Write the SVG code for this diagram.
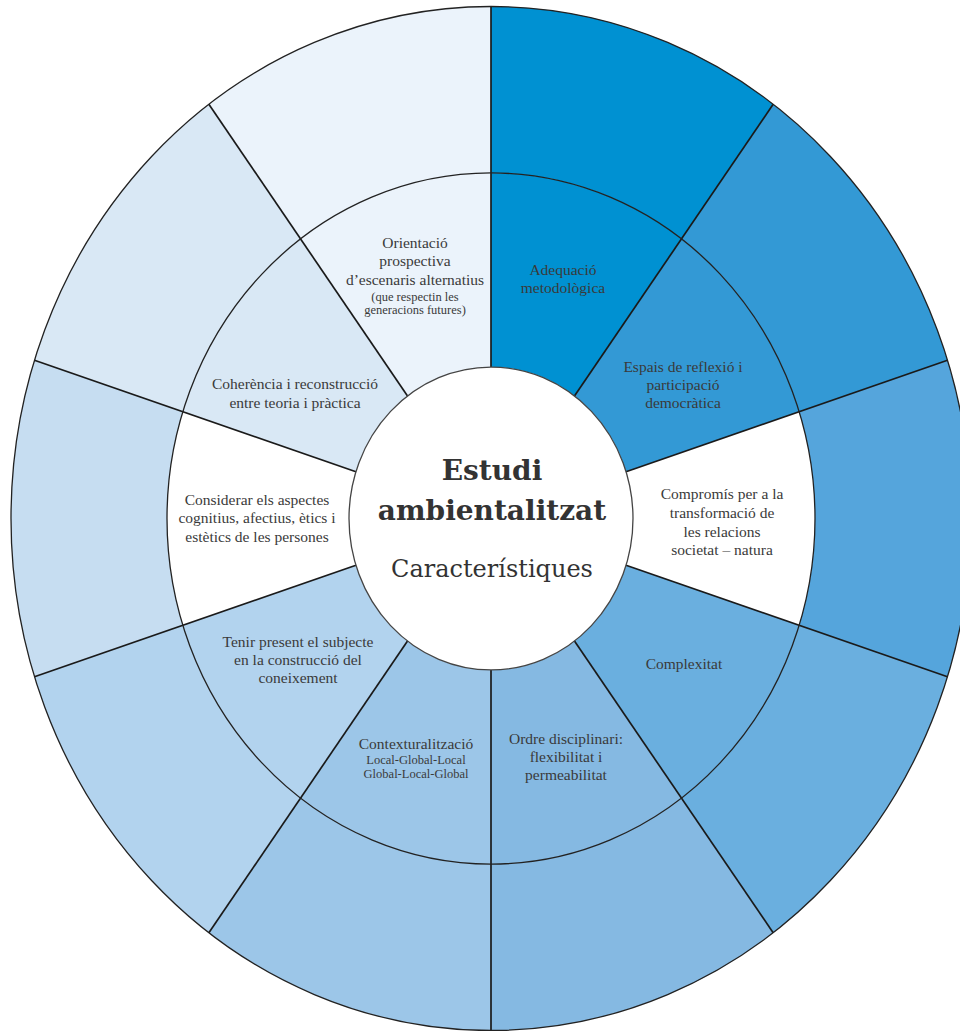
<svg xmlns="http://www.w3.org/2000/svg" width="960" height="1031" viewBox="0 0 960 1031">
<style>
.cell{stroke:none}
.t{font-family:"Liberation Serif","DejaVu Serif",serif;font-size:15.5px;fill:#3a3a3a;text-anchor:middle}
.s{font-size:12.5px}
.h{font-family:"DejaVu Serif",serif;font-weight:bold;font-size:28px;fill:#333;text-anchor:middle}
.c{font-family:"DejaVu Serif",serif;font-size:24px;fill:#333;text-anchor:middle}
.ln{stroke:#1a1a1a;stroke-width:1.7;fill:none}
.ring{stroke:#222;stroke-width:1.3;fill:none}
</style>
<rect width="960" height="1031" fill="#fff"/>
<g id="s0">
<path class="cell" fill="#0091d2" d="M491,6.5 A480 512 0 0 1 773.14,104.28 L681.44,238.9 A324 345.6 0 0 0 491,172.9 Z"/>
<path class="cell" fill="#0091d2" d="M491,172.9 A324 345.6 0 0 1 681.44,238.9 L574.47,395.96 A142 151.47 0 0 0 491,367.03 Z"/>
<text class="t" x="563" y="275">Adequació</text>
<text class="t" x="563" y="293">metodològica</text>
</g>
<g id="s1">
<path class="cell" fill="#3399d5" d="M773.14,104.28 A480 512 0 0 1 947.51,360.28 L799.14,411.7 A324 345.6 0 0 0 681.44,238.9 Z"/>
<path class="cell" fill="#3399d5" d="M681.44,238.9 A324 345.6 0 0 1 799.14,411.7 L626.05,471.69 A142 151.47 0 0 0 574.47,395.96 Z"/>
<text class="t" x="683" y="372">Espais de reflexió i</text>
<text class="t" x="683" y="390">participació</text>
<text class="t" x="683" y="408">democràtica</text>
</g>
<g id="s2">
<path class="cell" fill="#55a5dc" d="M947.51,360.28 A480 512 0 0 1 947.51,676.72 L799.14,625.3 A324 345.6 0 0 0 799.14,411.7 Z"/>
<path class="cell" fill="#ffffff" d="M799.14,411.7 A324 345.6 0 0 1 799.14,625.3 L626.05,565.31 A142 151.47 0 0 0 626.05,471.69 Z"/>
<text class="t" x="722" y="499">Compromís per a la</text>
<text class="t" x="722" y="518">transformació de</text>
<text class="t" x="722" y="537">les relacions</text>
<text class="t" x="722" y="555">societat – natura</text>
</g>
<g id="s3">
<path class="cell" fill="#6aafdf" d="M947.51,676.72 A480 512 0 0 1 773.14,932.72 L681.44,798.1 A324 345.6 0 0 0 799.14,625.3 Z"/>
<path class="cell" fill="#6aafdf" d="M799.14,625.3 A324 345.6 0 0 1 681.44,798.1 L574.47,641.04 A142 151.47 0 0 0 626.05,565.31 Z"/>
<text class="t" x="684" y="669">Complexitat</text>
</g>
<g id="s4">
<path class="cell" fill="#85b9e2" d="M773.14,932.72 A480 512 0 0 1 491,1030.5 L491,864.1 A324 345.6 0 0 0 681.44,798.1 Z"/>
<path class="cell" fill="#85b9e2" d="M681.44,798.1 A324 345.6 0 0 1 491,864.1 L491,669.97 A142 151.47 0 0 0 574.47,641.04 Z"/>
<text class="t" x="566" y="744">Ordre disciplinari:</text>
<text class="t" x="566" y="762">flexibilitat i</text>
<text class="t" x="566" y="780">permeabilitat</text>
</g>
<g id="s5">
<path class="cell" fill="#9cc6e8" d="M491,1030.5 A480 512 0 0 1 208.86,932.72 L300.56,798.1 A324 345.6 0 0 0 491,864.1 Z"/>
<path class="cell" fill="#9cc6e8" d="M491,864.1 A324 345.6 0 0 1 300.56,798.1 L407.53,641.04 A142 151.47 0 0 0 491,669.97 Z"/>
<text class="t" x="416" y="749">Contexturalització</text>
<text class="t s" x="416" y="764">Local-Global-Local</text>
<text class="t s" x="416" y="778">Global-Local-Global</text>
</g>
<g id="s6">
<path class="cell" fill="#b2d3ee" d="M208.86,932.72 A480 512 0 0 1 34.49,676.72 L182.86,625.3 A324 345.6 0 0 0 300.56,798.1 Z"/>
<path class="cell" fill="#b2d3ee" d="M300.56,798.1 A324 345.6 0 0 1 182.86,625.3 L355.95,565.31 A142 151.47 0 0 0 407.53,641.04 Z"/>
<text class="t" x="298" y="647">Tenir present el subjecte</text>
<text class="t" x="298" y="665">en la construcció del</text>
<text class="t" x="298" y="683">coneixement</text>
</g>
<g id="s7">
<path class="cell" fill="#c6ddf1" d="M34.49,676.72 A480 512 0 0 1 34.49,360.28 L182.86,411.7 A324 345.6 0 0 0 182.86,625.3 Z"/>
<path class="cell" fill="#ffffff" d="M182.86,625.3 A324 345.6 0 0 1 182.86,411.7 L355.95,471.69 A142 151.47 0 0 0 355.95,565.31 Z"/>
<text class="t" x="257" y="505">Considerar els aspectes</text>
<text class="t" x="257" y="523">cognitius, afectius, ètics i</text>
<text class="t" x="257" y="542">estètics de les persones</text>
</g>
<g id="s8">
<path class="cell" fill="#d9e8f5" d="M34.49,360.28 A480 512 0 0 1 208.86,104.28 L300.56,238.9 A324 345.6 0 0 0 182.86,411.7 Z"/>
<path class="cell" fill="#d9e8f5" d="M182.86,411.7 A324 345.6 0 0 1 300.56,238.9 L407.53,395.96 A142 151.47 0 0 0 355.95,471.69 Z"/>
<text class="t" x="295" y="389">Coherència i reconstrucció</text>
<text class="t" x="295" y="408">entre teoria i pràctica</text>
</g>
<g id="s9">
<path class="cell" fill="#ebf3fb" d="M208.86,104.28 A480 512 0 0 1 491,6.5 L491,172.9 A324 345.6 0 0 0 300.56,238.9 Z"/>
<path class="cell" fill="#ebf3fb" d="M300.56,238.9 A324 345.6 0 0 1 491,172.9 L491,367.03 A142 151.47 0 0 0 407.53,395.96 Z"/>
<text class="t" x="415" y="248">Orientació</text>
<text class="t" x="415" y="266">prospectiva</text>
<text class="t" x="415" y="285">d’escenaris alternatius</text>
<text class="t s" x="415" y="301">(que respectin les</text>
<text class="t s" x="415" y="314">generacions futures)</text>
</g>
<g id="connectors">
<line class="ln" x1="491" y1="6.5" x2="491" y2="367.03"/>
<line class="ln" x1="773.14" y1="104.28" x2="574.47" y2="395.96"/>
<line class="ln" x1="947.51" y1="360.28" x2="626.05" y2="471.69"/>
<line class="ln" x1="947.51" y1="676.72" x2="626.05" y2="565.31"/>
<line class="ln" x1="773.14" y1="932.72" x2="574.47" y2="641.04"/>
<line class="ln" x1="491" y1="1030.5" x2="491" y2="669.97"/>
<line class="ln" x1="208.86" y1="932.72" x2="407.53" y2="641.04"/>
<line class="ln" x1="34.49" y1="676.72" x2="355.95" y2="565.31"/>
<line class="ln" x1="34.49" y1="360.28" x2="355.95" y2="471.69"/>
<line class="ln" x1="208.86" y1="104.28" x2="407.53" y2="395.96"/>
<ellipse class="ring" cx="491" cy="518.5" rx="324" ry="345.6"/>
<ellipse class="ring" cx="491" cy="518.5" rx="480" ry="512"/>
</g>
<g id="center">
<ellipse cx="491" cy="518.5" rx="142" ry="151.47" fill="#fff" stroke="#444" stroke-width="1.3"/>
<text class="h" x="492" y="480">Estudi</text>
<text class="h" x="492" y="520">ambientalitzat</text>
<text class="c" x="492" y="577">Característiques</text>
</g>
</svg>
